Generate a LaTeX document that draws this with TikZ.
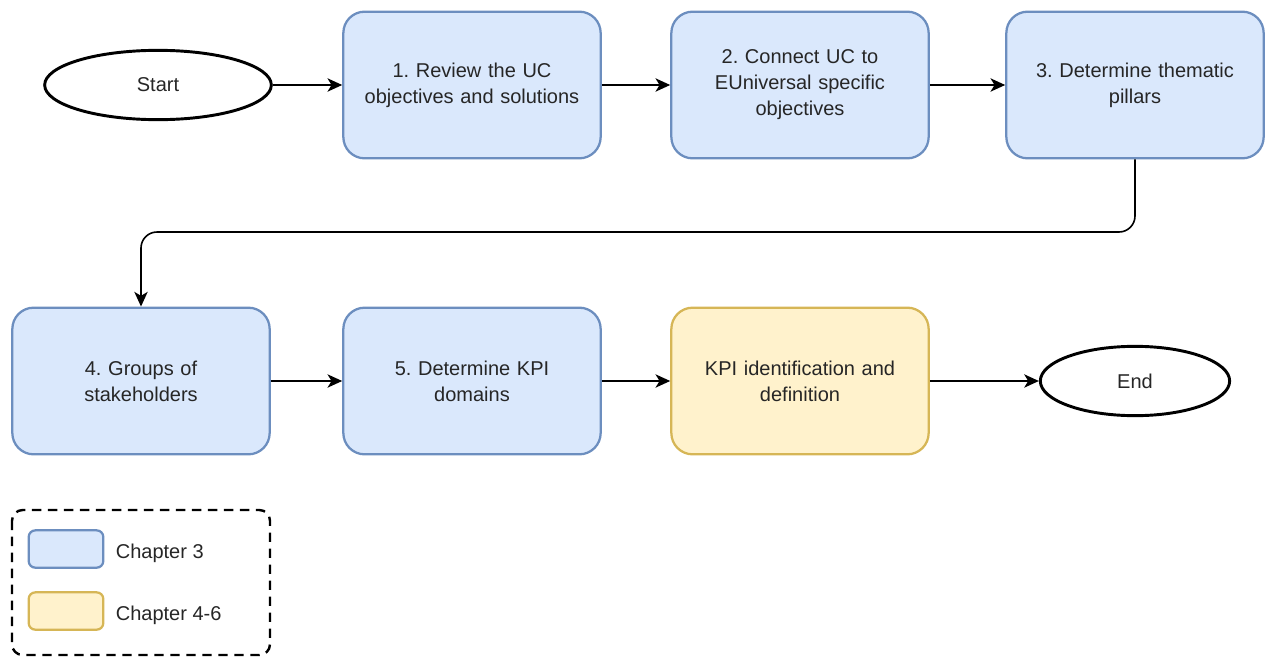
\documentclass[tikz,border=0pt]{standalone}
\usepackage{fontspec}
\setmainfont{Liberation Sans}
\frenchspacing
\usetikzlibrary{arrows.meta,positioning,shapes.geometric}
\definecolor{chapfill}{HTML}{DAE8FC}
\definecolor{chapdraw}{HTML}{6C8EBF}
\definecolor{kpifill}{HTML}{FFF2CC}
\definecolor{kpidraw}{HTML}{D6B656}
\tikzstyle{line} = [draw, line width=1.2pt, -{Stealth[length=11pt,width=10pt,inset=3pt]}]
\tikzstyle{terminal} = [draw, ellipse, line width=2.2pt, minimum width=170pt, minimum height=52pt, font=\fontsize{15}{19.5}\selectfont, text=black!85]
\tikzstyle{chap} = [rectangle, draw=chapdraw, fill=chapfill, line width=1.7pt, rounded corners=16pt, minimum width=193pt, minimum height=110pt, text width=180pt, align=center, font=\fontsize{15}{19.5}\selectfont, text=black!85]
\tikzstyle{kpi} = [chap, draw=kpidraw, fill=kpifill]
\tikzstyle{legbox} = [rectangle, line width=1.7pt, rounded corners=5pt, minimum width=56pt, minimum height=28pt]
\tikzstyle{legtext} = [font=\fontsize{15}{19.5}\selectfont, text=black!85, anchor=west, yshift=-3pt]

\begin{document}
\begin{tikzpicture}[x=0.75pt, y=-0.75pt]
\useasboundingbox (0,0) rectangle (1268,657);

\node [terminal] (start) at (158,85) {Start};
\node [chap] (s1) at (472,85) {1. Review the UC\\objectives and solutions};
\node [chap] (s2) at (800,85) {2. Connect UC to\\EUniversal specific\\objectives};
\node [chap] (s3) at (1135,85) {3. Determine thematic\\pillars};

\path [line] (start.east) to (s1.west);
\path [line] (s1.east) to (s2.west);
\path [line] (s2.east) to (s3.west);

\node [chap] (s4) at (141,381) {4. Groups of\\stakeholders};
\node [chap] (s5) at (472,381) {5. Determine KPI\\domains};
\node [kpi] (s6) at (800,381) {KPI identification and\\definition};
\node [terminal, minimum width=142pt] (end) at (1135,381) {End};

\coordinate (turn) at (640,232);
\path [line, rounded corners=12pt] (s3.south) -- (s3.south |- turn) -| (s4.north);
\path [line] (s4.east) to (s5.west);
\path [line] (s5.east) to (s6.west);
\path [line] (s6.east) to (end.west);

% legend
\draw [line width=1.8pt, dash pattern=on 7pt off 5pt, rounded corners=8pt] (12,510) rectangle (270,655);
\node [legbox, draw=chapdraw, fill=chapfill] (leg3) at (66,549) {};
\node [legbox, draw=kpidraw, fill=kpifill] (leg46) at (66,611) {};
\node [legtext, right=5pt of leg3] (leg3txt) {Chapter 3};
\node [legtext, right=5pt of leg46] (leg46txt) {Chapter 4-6};

\end{tikzpicture}
\end{document}
